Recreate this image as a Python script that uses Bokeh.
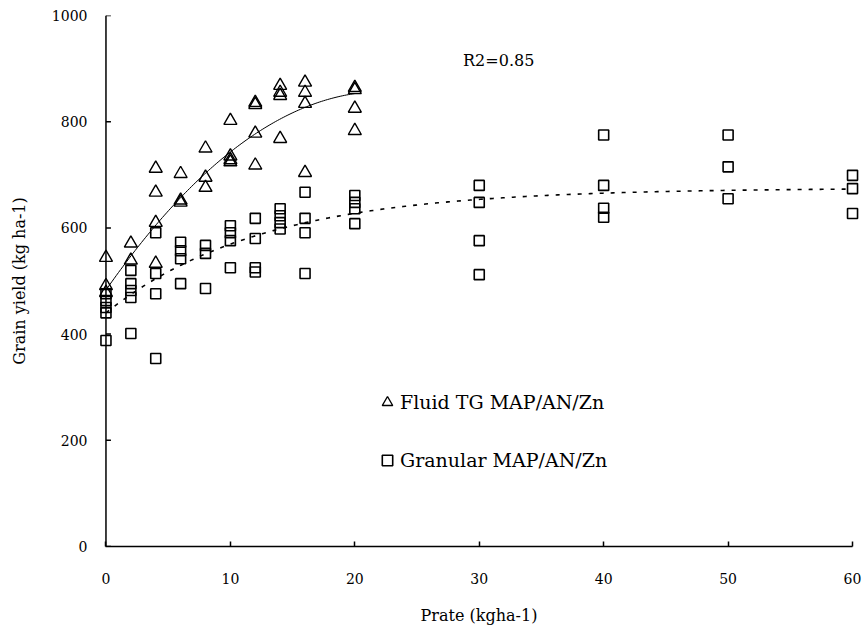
import numpy as np
from bokeh.plotting import figure
from bokeh.models import Range1d, Legend, LegendItem, Label, FixedTicker, Span
from bokeh.embed import file_html
from bokeh.resources import INLINE

# Fluid TG MAP/AN/Zn (triangles)
fluid_x = [0, 0, 0,
           2, 2,
           4, 4, 4, 4,
           6, 6, 6,
           8, 8, 8,
           10, 10, 10, 10,
           12, 12, 12, 12,
           14, 14, 14, 14,
           16, 16, 16, 16,
           20, 20, 20, 20]
fluid_y = [544, 491, 478,
           571, 539,
           712, 667, 610, 533,
           702, 652, 648,
           750, 695, 676,
           802, 735, 728, 724,
           836, 832, 778, 718,
           868, 855, 849, 768,
           874, 855, 834, 704,
           864, 860, 825, 783]

# Granular MAP/AN/Zn (squares)
gran_x = [0, 0, 0, 0, 0,
          2, 2, 2, 2, 2,
          4, 4, 4, 4,
          6, 6, 6, 6,
          8, 8, 8,
          10, 10, 10, 10,
          12, 12, 12, 12,
          14, 14, 14, 14,
          16, 16, 16, 16,
          20, 20, 20, 20,
          30, 30, 30, 30,
          40, 40, 40, 40,
          50, 50, 50,
          60, 60, 60]
gran_y = [476, 463, 450, 440, 388,
          520, 495, 482, 469, 401,
          591, 514, 476, 354,
          573, 557, 542, 495,
          567, 552, 486,
          604, 591, 576, 525,
          618, 580, 525, 517,
          636, 623, 610, 598,
          667, 618, 591, 514,
          661, 648, 636, 608,
          680, 648, 576, 512,
          775, 680, 637, 620,
          775, 715, 655,
          699, 674, 627]

# fitted trend lines (coefficients)
fluid_trend = (483.0, 33.5, -0.75)     # a + b*x + c*x^2, 0..20
gran_trend = (675.0, 235.0, 0.08)      # A - B*exp(-k*x), 0..60
r2_text = "R2=0.85"

x_ticks = [0, 10, 20, 30, 40, 50, 60]
y_ticks = [0, 200, 400, 600, 800, 1000]
x_title = "Prate (kgha-1)"
y_title = "Grain yield (kg ha-1)"
FONT = "DejaVu Serif"

p = figure(frame_width=761, frame_height=531,
           x_range=Range1d(-0.6, 60.56), y_range=Range1d(0, 1000),
           output_backend="svg", toolbar_location=None,
           min_border_left=98, min_border_right=8, min_border_top=15,
           min_border_bottom=84)
p.outline_line_color = None
p.xgrid.visible = False
p.ygrid.visible = False
p.background_fill_color = "white"

for ax in (p.xaxis[0], p.yaxis[0]):
    ax.axis_line_color = "black"
    ax.axis_line_width = 1.5
    ax.major_tick_line_color = "black"
    ax.major_tick_line_width = 1.5
    ax.major_tick_in = 5
    ax.major_tick_out = 0
    ax.minor_tick_line_color = None
    ax.major_label_text_font = FONT
    ax.major_label_text_font_size = "14px"
    ax.major_label_text_color = "black"
    ax.axis_label_text_font = FONT
    ax.axis_label_text_font_size = "16px"
    ax.axis_label_text_font_style = "normal"
    ax.axis_label_text_color = "black"

p.xaxis.ticker = FixedTicker(ticks=x_ticks)
p.yaxis.ticker = FixedTicker(ticks=y_ticks)
p.xaxis.bounds = (0, 60)
p.xaxis.axis_label = x_title
p.yaxis.axis_label = y_title
p.xaxis.major_label_standoff = 26
p.xaxis.axis_label_standoff = 19
p.yaxis.major_label_standoff = 11
p.yaxis.axis_label_standoff = 20
# the y axis is drawn at x = 0 (inside the padded frame)
p.yaxis.axis_line_color = None
p.yaxis.major_tick_line_color = None
p.add_layout(Span(location=0, dimension="height", line_color="black",
                  line_width=1.5))
p.segment(x0=[0] * len(y_ticks), y0=y_ticks, x1=[0.4] * len(y_ticks),
          y1=y_ticks, line_color="black", line_width=1.5)

# trend lines
xf = np.linspace(0, 20, 120)
a, b, c = fluid_trend
p.line(xf, a + b * xf + c * xf ** 2, line_color="black", line_width=1)
xg = np.linspace(0, 60, 300)
A, B, k = gran_trend
p.line(xg, A - B * np.exp(-k * xg), line_color="black", line_width=1.6,
       line_dash="4 7")

sq = p.scatter(gran_x, gran_y, marker="square", size=10, fill_alpha=0,
               line_color="black", line_width=1.6)
tri = p.scatter(fluid_x, fluid_y, marker="triangle", size=13, fill_alpha=0,
                line_color="black", line_width=1.4)

legend = Legend(items=[LegendItem(label="Fluid TG MAP/AN/Zn", renderers=[tri]),
                       LegendItem(label="Granular MAP/AN/Zn", renderers=[sq])],
                location=(276, 73), orientation="vertical", spacing=32,
                glyph_width=26, glyph_height=26, label_height=26,
                label_standoff=0, padding=0, margin=0,
                border_line_color=None, background_fill_alpha=0,
                label_text_font=FONT, label_text_font_size="19px",
                label_text_color="black")
p.add_layout(legend)

p.add_layout(Label(x=28.7, y=915, text=r2_text, text_font=FONT,
                   text_font_size="16px", text_color="black",
                   text_baseline="middle"))

open("out.html", "w").write(file_html(p, INLINE))
